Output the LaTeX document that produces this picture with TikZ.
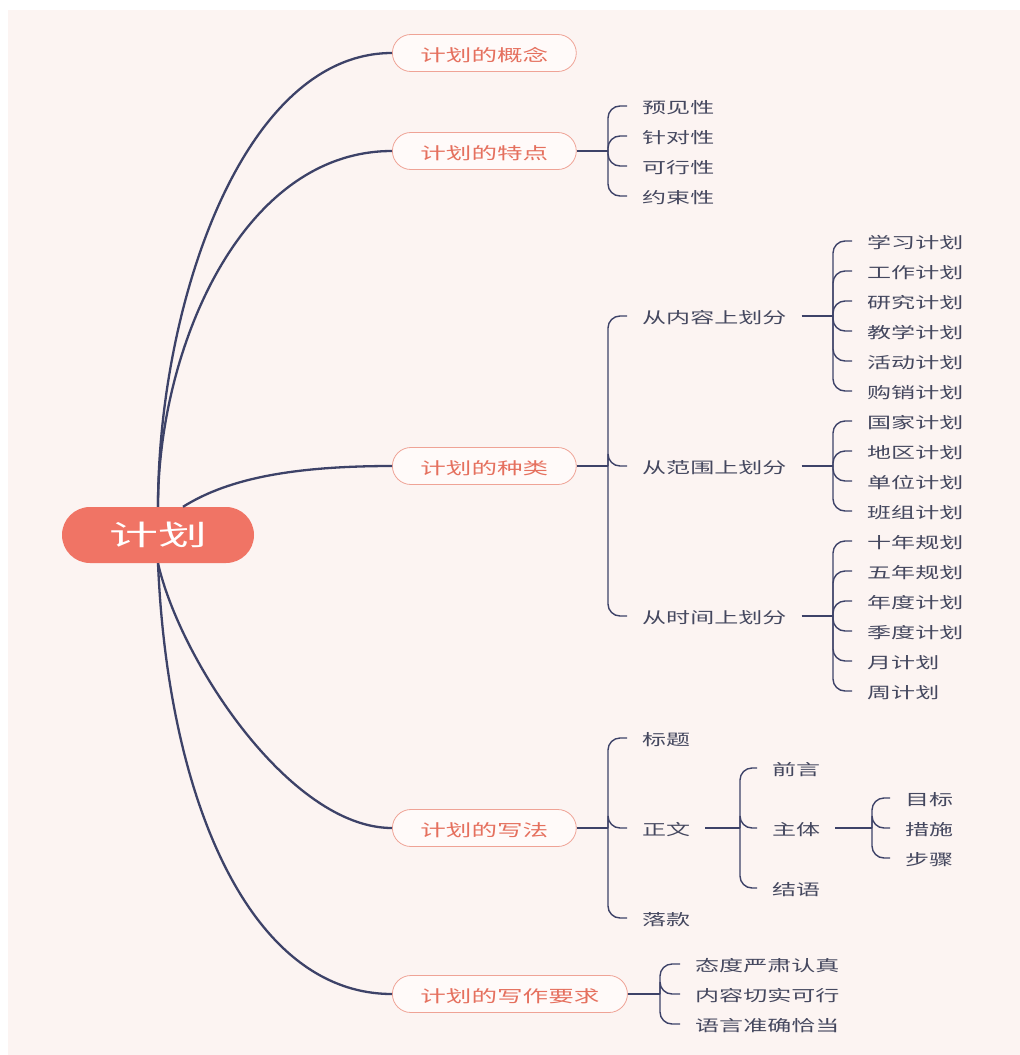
\documentclass[tikz,border=0pt]{standalone}
\usepackage{fontspec}
\usetikzlibrary{calc}
\newfontfamily\cjk[FakeStretch=1.55]{Noto Sans CJK SC}
\newfontfamily\cjkroot[FakeStretch=1.75]{Noto Sans CJK SC}
\definecolor{bg}{HTML}{FCF4F2}
\definecolor{navy}{HTML}{3D4268}
\definecolor{leaftext}{HTML}{45485F}
\definecolor{rootfill}{HTML}{F07465}
\definecolor{pilltext}{HTML}{E5705E}
\definecolor{pillborder}{HTML}{EFA396}
\definecolor{pillfill}{HTML}{FFFAF9}
\begin{document}
\begin{tikzpicture}[x=1pt,y=-1pt,
  rootbox/.style={fill=rootfill, rounded corners=28pt, minimum width=192pt,
    minimum height=56pt, inner sep=0pt, text=white,
    font=\cjkroot\fontsize{28}{31}\selectfont},
  topic/.style={anchor=west, draw=pillborder, line width=0.8pt, fill=pillfill,
    rounded corners=18.5pt, minimum height=37pt, inner xsep=28pt, inner ysep=0pt,
    text=pilltext, font=\cjk\fontsize{16.5}{20}\selectfont,
    text height=16.5pt, text depth=0pt},
  leaf/.style={anchor=west, inner xsep=15pt, inner ysep=0pt, text=leaftext,
    font=\cjk\fontsize{15.5}{18}\selectfont, text height=15.7pt, text depth=0pt},
  trunk/.style={draw=navy, line width=2.3pt},
  twig/.style={draw=navy, line width=1.4pt, rounded corners=12pt},
]
% page and canvas
\fill[white] (0,0) rectangle (1020,1055);
\fill[bg] (8,10) rectangle (1020,1055);
\useasboundingbox (0,0) rectangle (1020,1055);

% central topic and main branches
\node[rootbox] (root) at (158,535) {计划};
\node[topic] (k1) at (392,53)  {计划的概念};
\node[topic] (k2) at (392,151) {计划的特点};
\node[topic] (k3) at (392,466) {计划的种类};
\node[topic] (k4) at (392,828) {计划的写法};
\node[topic] (k5) at (392,994) {计划的写作要求};

\coordinate (rootnr) at ($(root.north)+(25,0)$);
\draw[trunk] (root.north) .. controls +(0,-200) and +(-150,0) .. (k1.west);
\draw[trunk] (root.north) .. controls +(0,-157) and +(-151,0) .. (k2.west);
\draw[trunk] (rootnr) .. controls +(40,-25) and +(-110,0) .. (k3.west);
\draw[trunk] (root.south) .. controls +(22,97) and +(-102,0) .. (k4.west);
\draw[trunk] (root.south) .. controls +(10,237) and +(-142,0) .. (k5.west);

% features
\node[leaf] (f1) at (627,106) {预见性};
\node[leaf] (f2) at (627,136) {针对性};
\node[leaf] (f3) at (627,166) {可行性};
\node[leaf] (f4) at (627,196) {约束性};
\coordinate (j2) at (608,151);
\draw[twig] (k2.east) -- (j2);
\foreach \c in {f1,f2,f3,f4} \draw[twig] (j2) |- (\c.west);

% kinds
\node[leaf] (t1) at (627,316) {从内容上划分};
\node[leaf] (t2) at (627,466) {从范围上划分};
\node[leaf] (t3) at (627,616) {从时间上划分};
\coordinate (j3) at (608,466);
\draw[twig] (k3.east) -- (j3);
\foreach \c in {t1,t2,t3} \draw[twig] (j3) |- (\c.west);

\node[leaf] (a1) at (852,241) {学习计划};
\node[leaf] (a2) at (852,271) {工作计划};
\node[leaf] (a3) at (852,301) {研究计划};
\node[leaf] (a4) at (852,331) {教学计划};
\node[leaf] (a5) at (852,361) {活动计划};
\node[leaf] (a6) at (852,391) {购销计划};
\coordinate (ja) at (833,316);
\draw[twig] (t1.east) -- (ja);
\foreach \c in {a1,a2,a3,a4,a5,a6} \draw[twig] (ja) |- (\c.west);

\node[leaf] (b1) at (852,421) {国家计划};
\node[leaf] (b2) at (852,451) {地区计划};
\node[leaf] (b3) at (852,481) {单位计划};
\node[leaf] (b4) at (852,511) {班组计划};
\coordinate (jb) at (833,466);
\draw[twig] (t2.east) -- (jb);
\foreach \c in {b1,b2,b3,b4} \draw[twig] (jb) |- (\c.west);

\node[leaf] (c1) at (852,541) {十年规划};
\node[leaf] (c2) at (852,571) {五年规划};
\node[leaf] (c3) at (852,601) {年度计划};
\node[leaf] (c4) at (852,631) {季度计划};
\node[leaf] (c5) at (852,661) {月计划};
\node[leaf] (c6) at (852,691) {周计划};
\coordinate (jc) at (833,616);
\draw[twig] (t3.east) -- (jc);
\foreach \c in {c1,c2,c3,c4,c5,c6} \draw[twig] (jc) |- (\c.west);

% writing format
\node[leaf] (w1) at (627,738) {标题};
\node[leaf] (w2) at (627,828) {正文};
\node[leaf] (w3) at (627,918) {落款};
\coordinate (j4) at (608,828);
\draw[twig] (k4.east) -- (j4);
\foreach \c in {w1,w2,w3} \draw[twig] (j4) |- (\c.west);

\node[leaf] (z1) at (757,768) {前言};
\node[leaf] (z2) at (757,828) {主体};
\node[leaf] (z3) at (757,888) {结语};
\coordinate (jz) at (740,828);
\draw[twig] (w2.east) -- (jz);
\foreach \c in {z1,z2,z3} \draw[twig] (jz) |- (\c.west);

\node[leaf] (m1) at (890,798) {目标};
\node[leaf] (m2) at (890,828) {措施};
\node[leaf] (m3) at (890,858) {步骤};
\coordinate (jm) at (872,828);
\draw[twig] (z2.east) -- (jm);
\foreach \c in {m1,m2,m3} \draw[twig] (jm) |- (\c.west);

% writing requirements
\node[leaf] (r1) at (680,964)  {态度严肃认真};
\node[leaf] (r2) at (680,994)  {内容切实可行};
\node[leaf] (r3) at (680,1024) {语言准确恰当};
\coordinate (j5) at (660,994);
\draw[twig] (k5.east) -- (j5);
\foreach \c in {r1,r2,r3} \draw[twig] (j5) |- (\c.west);
\end{tikzpicture}
\end{document}
